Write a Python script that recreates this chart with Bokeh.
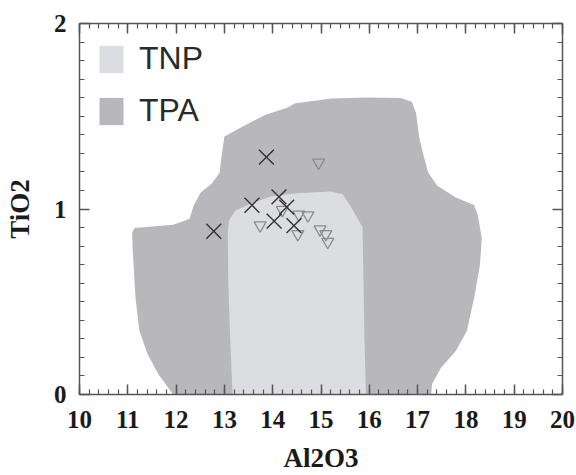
from bokeh.plotting import figure
from bokeh.models import (Legend, LegendItem, LinearAxis, Range1d, SingleIntervalTicker,
                          CustomLabelingPolicy)
from bokeh.embed import file_html
from bokeh.resources import INLINE

# TPA field (outer, dark grey)
tpa_x = [11.94, 11.63, 11.41, 11.24, 11.16, 11.10, 11.09, 11.14, 11.94, 12.28, 12.36, 12.51,
         12.74, 12.90, 12.95, 13.00, 13.38, 13.84, 14.30, 14.45, 15.21, 15.97, 16.65, 16.88,
         16.97, 17.03, 17.11, 17.22, 17.41, 17.79, 18.17, 18.25, 18.33, 18.29, 18.17, 18.02,
         17.79, 17.49, 17.30, 17.28]
tpa_y = [0.0, 0.11, 0.217, 0.342, 0.52, 0.786, 0.875, 0.897, 0.915, 0.947, 1.018, 1.089,
         1.137, 1.196, 1.302, 1.391, 1.445, 1.507, 1.546, 1.569, 1.596, 1.601, 1.598, 1.578,
         1.516, 1.391, 1.302, 1.196, 1.125, 1.062, 1.021, 0.964, 0.84, 0.698, 0.52, 0.342,
         0.235, 0.146, 0.057, 0.0]

# TNP field (inner, light grey)
tnp_x = [13.17, 13.12, 13.08, 13.07, 13.10, 13.22, 13.55, 13.96, 14.5, 15.2, 15.45, 15.6,
         15.78, 15.86, 15.88, 15.90, 15.93]
tnp_y = [0.0, 0.3, 0.6, 0.88, 0.94, 0.99, 1.03, 1.067, 1.085, 1.095, 1.08, 1.02,
         0.94, 0.9, 0.6, 0.3, 0.0]

# samples
cross_x = [12.78, 13.87, 13.57, 14.13, 14.29, 14.03, 14.44]
cross_y = [0.88, 1.28, 1.02, 1.065, 1.01, 0.935, 0.91]
tri_x = [14.95, 13.74, 14.20, 14.54, 14.73, 14.52, 14.98, 15.10, 15.14]
tri_y = [1.25, 0.912, 0.995, 0.97, 0.966, 0.865, 0.89, 0.865, 0.823]

legend_labels = ["TNP", "TPA"]

TNP_COLOR = "#dcdde0"
TPA_COLOR = "#b8b8bc"
AX = "#555555"
SERIF = "Liberation Serif"

p = figure(width=576, height=475, x_range=Range1d(10, 20), y_range=Range1d(0, 2),
           output_backend="svg", toolbar_location=None,
           min_border_left=79, min_border_right=14, min_border_top=23, min_border_bottom=79)
p.grid.visible = False
p.outline_line_color = None

r_tpa = p.patch(tpa_x, tpa_y, fill_color=TPA_COLOR, line_alpha=0)
r_tnp = p.patch(tnp_x, tnp_y, fill_color=TNP_COLOR, line_alpha=0)
p.scatter(tri_x, tri_y, marker="inverted_triangle", size=12, fill_color=None,
          line_color="#8c8c8c", line_width=1.3)
p.scatter(cross_x, cross_y, marker="x", size=21, line_color="#333333", line_width=1.4)

def style(ax, labels=True):
    ax.axis_line_color = AX
    ax.axis_line_width = 1.5
    ax.major_tick_line_color = AX
    ax.minor_tick_line_color = AX
    ax.major_tick_line_width = 1.5
    ax.minor_tick_line_width = 1.2
    ax.major_tick_out = 0
    ax.minor_tick_out = 0
    ax.major_tick_in = 10
    ax.minor_tick_in = 5
    if labels:
        ax.major_label_text_font = SERIF
        ax.major_label_text_font_style = "bold"
        ax.major_label_text_font_size = "25px"
        ax.major_label_text_color = "#1a1a1a"
        ax.axis_label_text_font = SERIF
        ax.axis_label_text_font_style = "bold"
        ax.axis_label_text_font_size = "27px"
        ax.axis_label_text_color = "#1a1a1a"
    else:
        ax.major_label_policy = CustomLabelingPolicy(code="return []")
        ax.major_label_standoff = 0

p.xaxis.ticker = SingleIntervalTicker(interval=1, num_minor_ticks=5)
p.yaxis.ticker = SingleIntervalTicker(interval=1, num_minor_ticks=10)
p.xaxis.axis_label = "Al2O3"
p.yaxis.axis_label = "TiO2"
style(p.xaxis[0])
style(p.yaxis[0])
p.xaxis.major_label_standoff = 16
p.xaxis.axis_label_standoff = 12
p.yaxis.major_label_standoff = 13
p.yaxis.axis_label_standoff = 16

top = LinearAxis(ticker=SingleIntervalTicker(interval=1, num_minor_ticks=5))
right = LinearAxis(ticker=SingleIntervalTicker(interval=1, num_minor_ticks=10))
style(top, labels=False)
style(right, labels=False)
p.add_layout(top, "above")
p.add_layout(right, "right")

legend = Legend(items=[LegendItem(label=legend_labels[0], renderers=[r_tnp]),
                       LegendItem(label=legend_labels[1], renderers=[r_tpa])],
                location="top_left", margin=17, padding=0, spacing=15,
                glyph_width=30, glyph_height=34, label_height=34, label_standoff=13,
                label_text_font="Liberation Sans", label_text_font_size="32px",
                label_text_color="#2a2a2a", border_line_color=None, background_fill_alpha=0)
p.add_layout(legend)

open("out.html", "w").write(file_html(p, INLINE))
